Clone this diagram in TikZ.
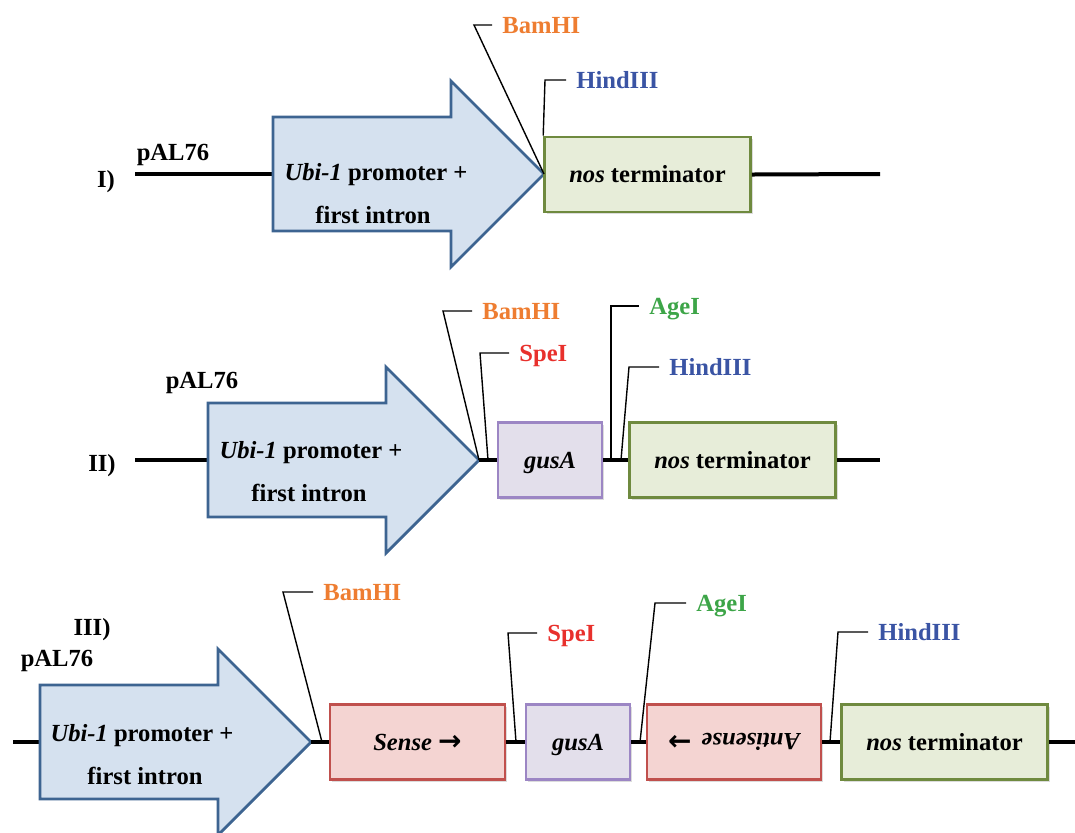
\documentclass[tikz,border=0pt]{standalone}
\usepackage{fontspec}
\usepackage{graphicx}
\setmainfont{Liberation Serif}
\newfontfamily\arrowfont{DejaVu Sans}
\usetikzlibrary{shadows}
\definecolor{promofill}{HTML}{D5E1EF}
\definecolor{promoline}{HTML}{3D6491}
\definecolor{nosfill}{HTML}{E7EDD9}
\definecolor{nosline}{HTML}{6F8A3F}
\definecolor{gusfill}{HTML}{E3DFEB}
\definecolor{gusline}{HTML}{9C86C4}
\definecolor{senfill}{HTML}{F4D4D2}
\definecolor{senline}{HTML}{C0504D}
\definecolor{bamc}{HTML}{EE7D31}
\definecolor{spec}{HTML}{E8302C}
\definecolor{agec}{HTML}{3DA548}
\definecolor{hindc}{HTML}{3A54A4}
\newcommand{\bigarrow}[1]{{\arrowfont\fontsize{14}{14}\selectfont #1}}
\begin{document}
\begin{tikzpicture}[x=0.5pt,y=-0.5pt,
  font=\fontsize{12.3}{14}\selectfont\bfseries,
  txt/.style={inner sep=0pt, text height=8.2pt, text depth=0pt},
  lab/.style={txt, anchor=west, inner xsep=5pt},
  bb/.style={line width=2pt},
  lead/.style={line width=0.7pt},
  promo/.style={fill=promofill, draw=promoline, line width=1.4pt, line join=miter},
  partbox/.style={txt, draw, line width=1.3pt, minimum height=37.5pt,
     drop shadow={shadow xshift=1pt, shadow yshift=-1.2pt, opacity=0.3, fill=black!45}},
  nosbox/.style={partbox, fill=nosfill, draw=nosline, minimum width=103pt},
  gusbox/.style={partbox, fill=gusfill, draw=gusline, minimum width=52pt},
  senbox/.style={partbox, fill=senfill, draw=senline, minimum width=87.5pt}]
\useasboundingbox (0,0) rectangle (1075,832);

% ---------------- Row I ----------------
\coordinate (startI) at (135,174);
\coordinate (tailI) at (273,174);
\coordinate (tipI) at (544,174);
\coordinate (endI) at (880,174);
\node[txt] (rowI) at (106,179) {I)};
\node[txt] (pI) at (173,152) {pAL76};
\draw[bb] (startI) -- (tailI);
\draw[promo] (273,117) -- (451,117) -- (451,81) -- (tipI) -- (451,267) -- (451,231) -- (273,231) -- cycle;
\node[txt] (ubiI) at (376,172) {\textit{Ubi-1} promoter +};
\node[txt] (intI) at (373,215) {first intron};
\node[nosbox] (nosI) at (647.5,174.5) {\textit{nos} terminator};
\draw[bb] (nosI.east) -- (endI);
\coordinate (cBamI) at (474,25);
\node[lab, text=bamc] (bamI) at (492,25) {BamHI};
\draw[lead] (tipI) -- (cBamI) -- (bamI.west);
\coordinate (cHindI) at (545,80);
\node[lab, text=hindc] (hindI) at (566,80) {HindIII};
\draw[lead] (nosI.north west) -- (cHindI) -- (hindI.west);

% ---------------- Row II ----------------
\coordinate (startII) at (135,460);
\coordinate (tailII) at (208,460);
\coordinate (tipII) at (479,460);
\coordinate (endII) at (880,460);
\node[txt] (rowII) at (102,463) {II)};
\node[txt] (pII) at (202,380) {pAL76};
\draw[bb] (startII) -- (tailII);
\draw[promo] (208,403) -- (386,403) -- (386,367) -- (tipII) -- (386,553) -- (386,517) -- (208,517) -- cycle;
\node[txt] (ubiII) at (311,450) {\textit{Ubi-1} promoter +};
\node[txt] (intII) at (309,493) {first intron};
\node[gusbox] (gusII) at (550,460) {\textit{gusA}};
\node[nosbox] (nosII) at (732.5,460) {\textit{nos} terminator};
\draw[bb] (tipII) -- (gusII.west);
\draw[bb] (gusII.east) -- (nosII.west);
\draw[bb] (nosII.east) -- (endII);
\coordinate (cBamII) at (443,311);
\node[lab, text=bamc] (bamII) at (472,311) {BamHI};
\draw[lead] (tipII) -- (cBamII) -- (bamII.west);
\coordinate (sSpeII) at (488,460);
\coordinate (cSpeII) at (480,353);
\node[lab, text=spec] (speII) at (509,353) {SpeI};
\draw[lead] (sSpeII) -- (cSpeII) -- (speII.west);
\coordinate (sAgeII) at (611,460);
\coordinate (cAgeII) at (611,306);
\node[lab, text=agec] (ageII) at (639,306) {AgeI};
\draw[lead] (sAgeII) -- (cAgeII) -- (ageII.west);
\coordinate (sHindII) at (621,460);
\coordinate (cHindII) at (629,367);
\node[lab, text=hindc] (hindII) at (659,367) {HindIII};
\draw[lead] (sHindII) -- (cHindII) -- (hindII.west);

% ---------------- Row III ----------------
\coordinate (startIII) at (13,742);
\coordinate (tailIII) at (40,742);
\coordinate (tipIII) at (311,742);
\coordinate (endIII) at (1075,742);
\node[txt] (rowIII) at (92,627) {III)};
\node[txt] (pIII) at (57,658) {pAL76};
\draw[bb] (startIII) -- (tailIII);
\draw[promo] (40,685) -- (218,685) -- (218,649) -- (tipIII) -- (218,835) -- (218,799) -- (40,799) -- cycle;
\node[txt] (ubiIII) at (142,733) {\textit{Ubi-1} promoter +};
\node[txt] (intIII) at (145,776) {first intron};
\node[senbox] (sense) at (417.5,742) {\textit{Sense} \bigarrow{→}};
\node[gusbox] (gusIII) at (578,742) {\textit{gusA}};
\node[senbox, minimum width=87pt] (anti) at (734,742) {\bigarrow{←}\hspace{0.4em}\rotatebox[origin=c]{180}{\textit{Antisense}}};
\node[nosbox] (nosIII) at (944.5,742) {\textit{nos} terminator};
\draw[bb] (tipIII) -- (sense.west);
\draw[bb] (sense.east) -- (gusIII.west);
\draw[bb] (gusIII.east) -- (anti.west);
\draw[bb] (anti.east) -- (nosIII.west);
\draw[bb] (nosIII.east) -- (endIII);
\coordinate (sBamIII) at (322,742);
\coordinate (cBamIII) at (283,592);
\node[lab, text=bamc] (bamIII) at (313,592) {BamHI};
\draw[lead] (sBamIII) -- (cBamIII) -- (bamIII.west);
\coordinate (sSpeIII) at (516,742);
\coordinate (cSpeIII) at (508,633);
\node[lab, text=spec] (speIII) at (537,633) {SpeI};
\draw[lead] (sSpeIII) -- (cSpeIII) -- (speIII.west);
\coordinate (sAgeIII) at (640,742);
\coordinate (cAgeIII) at (655,603);
\node[lab, text=agec] (ageIII) at (686,603) {AgeI};
\draw[lead] (sAgeIII) -- (cAgeIII) -- (ageIII.west);
\coordinate (sHindIII) at (830,742);
\coordinate (cHindIII) at (838,632);
\node[lab, text=hindc] (hindIII) at (868,632) {HindIII};
\draw[lead] (sHindIII) -- (cHindIII) -- (hindIII.west);
\end{tikzpicture}
\end{document}
